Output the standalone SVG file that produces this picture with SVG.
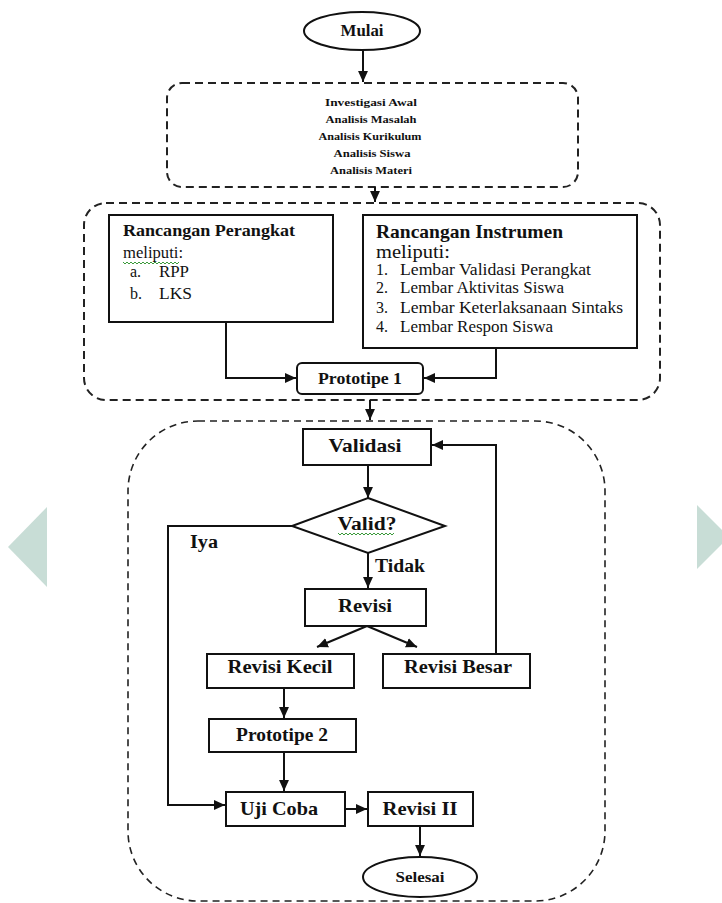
<svg xmlns="http://www.w3.org/2000/svg" width="722" height="903" viewBox="0 0 722 903">
<style>
text{font-family:"Liberation Serif","Times New Roman",serif;fill:#111;}
.b{font-weight:bold;}
.box{fill:#fff;stroke:#111;stroke-width:2;}
.grp{fill:none;stroke:#222;stroke-width:2;stroke-dasharray:8 5;}
.arr{fill:none;stroke:#111;stroke-width:2;marker-end:url(#ah);}
.sq{fill:none;stroke:#3a9a3a;stroke-width:1;}
.nav{fill:#c8ddd6;}
</style>
<defs>
<marker id="ah" viewBox="0 0 10 10" refX="10" refY="5" markerWidth="11" markerHeight="11" orient="auto" markerUnits="userSpaceOnUse"><path d="M0,0.5 L10,5 L0,9.5 z" fill="#111"/></marker>
</defs>
<rect width="722" height="903" fill="#fff"/>
<polygon class="nav" points="47,507 8,547 47,587"/>
<polygon class="nav" points="697,505 729,537 697,569"/>

<g id="groups">
<rect id="grp-investigasi" class="grp" x="167" y="83" width="411" height="104" rx="15"/>
<rect id="grp-rancangan" class="grp" x="84" y="203" width="576" height="197" rx="22"/>
<rect id="grp-validasi" class="grp" x="128" y="421" width="477" height="480" rx="70" style="stroke-width:1.6;stroke-dasharray:7 5"/>
</g>

<g id="connectors">
<line class="arr" x1="363" y1="50" x2="363" y2="82"/>
<line class="arr" x1="375" y1="187" x2="375" y2="202"/>
<polyline class="arr" points="226,322 226,378 296,378"/>
<polyline class="arr" points="496,348 496,378 424,378"/>
<line class="arr" x1="370" y1="400" x2="370" y2="420"/>
<line class="arr" x1="368" y1="465" x2="368" y2="498"/>
<line class="arr" x1="368" y1="553" x2="368" y2="588"/>
<line class="arr" x1="367" y1="626" x2="317" y2="647"/>
<line class="arr" x1="367" y1="626" x2="417" y2="647"/>
<polyline class="arr" points="496,654 496,445 432,445"/>
<line class="arr" x1="284" y1="688" x2="284" y2="718"/>
<line class="arr" x1="284" y1="752" x2="284" y2="791"/>
<polyline class="arr" points="292,526 168,526 168,805 225,805"/>
<line class="arr" x1="345" y1="809" x2="367" y2="809"/>
<line class="arr" x1="420" y1="826" x2="420" y2="856"/>
<text class="b" x="190" y="548" font-size="18" textLength="28" lengthAdjust="spacingAndGlyphs">Iya</text>
<text class="b" x="375" y="572" font-size="18" textLength="50" lengthAdjust="spacingAndGlyphs">Tidak</text>
</g>

<g id="mulai">
<ellipse cx="362" cy="31" rx="58" ry="19" fill="#fff" stroke="#111" stroke-width="2"/>
<text class="b" x="362" y="36" font-size="16" text-anchor="middle" textLength="43" lengthAdjust="spacingAndGlyphs">Mulai</text>
</g>

<g id="investigasi">
<text class="b" x="371" y="106" font-size="11" text-anchor="middle" textLength="92" lengthAdjust="spacingAndGlyphs">Investigasi  Awal</text>
<text class="b" x="371" y="123" font-size="11" text-anchor="middle" textLength="91" lengthAdjust="spacingAndGlyphs">Analisis Masalah</text>
<text class="b" x="370" y="140" font-size="11" text-anchor="middle" textLength="103" lengthAdjust="spacingAndGlyphs">Analisis Kurikulum</text>
<text class="b" x="372" y="157" font-size="11" text-anchor="middle" textLength="77" lengthAdjust="spacingAndGlyphs">Analisis Siswa</text>
<text class="b" x="371" y="174" font-size="11" text-anchor="middle" textLength="82" lengthAdjust="spacingAndGlyphs">Analisis Materi</text>
</g>

<g id="rancangan-perangkat">
<rect class="box" x="109" y="215" width="224" height="107"/>
<text class="b" x="123" y="236" font-size="17" textLength="172" lengthAdjust="spacingAndGlyphs">Rancangan Perangkat</text>
<text x="123" y="258" font-size="16" textLength="60" lengthAdjust="spacingAndGlyphs">meliputi:</text>
<path class="sq" d="M123,262 l2,2 l2,-2 l2,2 l2,-2 l2,2 l2,-2 l2,2 l2,-2 l2,2 l2,-2 l2,2 l2,-2 l2,2 l2,-2 l2,2 l2,-2 l2,2 l2,-2 l2,2 l2,-2 l2,2 l2,-2 l2,2 l2,-2 l2,2 l2,-2 l2,2 l2,-2"/>
<text x="130" y="277" font-size="16">a.</text>
<text x="159" y="277" font-size="16" textLength="30" lengthAdjust="spacingAndGlyphs">RPP</text>
<text x="130" y="299" font-size="16">b.</text>
<text x="159" y="299" font-size="16" textLength="33" lengthAdjust="spacingAndGlyphs">LKS</text>
</g>

<g id="rancangan-instrumen">
<rect class="box" x="363" y="215" width="274" height="133"/>
<text class="b" x="376" y="238" font-size="19" textLength="187" lengthAdjust="spacingAndGlyphs">Rancangan Instrumen</text>
<text x="376" y="258" font-size="19" textLength="74" lengthAdjust="spacingAndGlyphs">meliputi:</text>
<text x="376" y="275" font-size="16">1.</text>
<text x="400" y="275" font-size="16" textLength="191" lengthAdjust="spacingAndGlyphs">Lembar Validasi Perangkat</text>
<text x="376" y="293" font-size="16">2.</text>
<text x="400" y="293" font-size="16" textLength="164" lengthAdjust="spacingAndGlyphs">Lembar Aktivitas Siswa</text>
<text x="376" y="313" font-size="16">3.</text>
<text x="400" y="313" font-size="16" textLength="223" lengthAdjust="spacingAndGlyphs">Lembar Keterlaksanaan Sintaks</text>
<text x="376" y="332" font-size="16">4.</text>
<text x="400" y="332" font-size="16" textLength="153" lengthAdjust="spacingAndGlyphs">Lembar Respon Siswa</text>
</g>

<g id="prototipe-1">
<rect class="box" x="297" y="363" width="126" height="31" rx="5"/>
<text class="b" x="360" y="384" font-size="16" text-anchor="middle" textLength="84" lengthAdjust="spacingAndGlyphs">Prototipe 1</text>
</g>

<g id="validasi">
<rect class="box" x="303" y="429" width="128" height="36"/>
<text class="b" x="365" y="452" font-size="19" text-anchor="middle" textLength="73" lengthAdjust="spacingAndGlyphs">Validasi</text>
</g>

<g id="valid">
<polygon class="box" points="368,498 445,526 368,553 292,526"/>
<text class="b" x="367" y="530" font-size="18" text-anchor="middle" textLength="59" lengthAdjust="spacingAndGlyphs">Valid?</text>
<path class="sq" d="M338,533 l2,2 l2,-2 l2,2 l2,-2 l2,2 l2,-2 l2,2 l2,-2 l2,2 l2,-2 l2,2 l2,-2 l2,2 l2,-2 l2,2 l2,-2 l2,2 l2,-2 l2,2 l2,-2 l2,2 l2,-2 l2,2 l2,-2 l2,2 l2,-2 l2,2 l2,-2"/>
</g>

<g id="revisi">
<rect class="box" x="305" y="589" width="121" height="37"/>
<text class="b" x="365" y="612" font-size="19" text-anchor="middle" textLength="54" lengthAdjust="spacingAndGlyphs">Revisi</text>
</g>

<g id="revisi-kecil">
<rect class="box" x="207" y="654" width="147" height="34"/>
<text class="b" x="280" y="673" font-size="18" text-anchor="middle" textLength="105" lengthAdjust="spacingAndGlyphs">Revisi Kecil</text>
</g>

<g id="revisi-besar">
<rect class="box" x="383" y="654" width="147" height="34"/>
<text class="b" x="458" y="673" font-size="18" text-anchor="middle" textLength="108" lengthAdjust="spacingAndGlyphs">Revisi Besar</text>
</g>

<g id="prototipe-2">
<rect class="box" x="209" y="719" width="147" height="33"/>
<text class="b" x="282" y="741" font-size="18" text-anchor="middle" textLength="92" lengthAdjust="spacingAndGlyphs">Prototipe 2</text>
</g>

<g id="uji-coba">
<rect class="box" x="226" y="792" width="119" height="34"/>
<text class="b" x="279" y="815" font-size="19" text-anchor="middle" textLength="78" lengthAdjust="spacingAndGlyphs">Uji Coba</text>
</g>

<g id="revisi-ii">
<rect class="box" x="368" y="792" width="105" height="34"/>
<text class="b" x="420" y="815" font-size="19" text-anchor="middle" textLength="75" lengthAdjust="spacingAndGlyphs">Revisi II</text>
</g>

<g id="selesai">
<ellipse cx="420" cy="877" rx="57" ry="20" fill="#fff" stroke="#111" stroke-width="2"/>
<text class="b" x="420" y="882" font-size="15" text-anchor="middle" textLength="49" lengthAdjust="spacingAndGlyphs">Selesai</text>
</g>
</svg>
